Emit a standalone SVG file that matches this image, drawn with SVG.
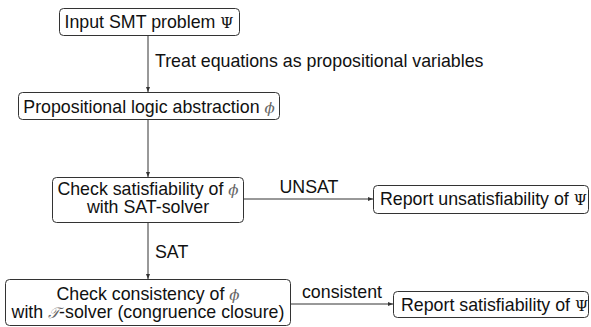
<svg xmlns="http://www.w3.org/2000/svg" width="591" height="327" viewBox="0 0 591 327">
<defs>
<marker id="ah" markerWidth="5" markerHeight="4" refX="5" refY="2" orient="auto" markerUnits="userSpaceOnUse">
<path d="M0,0 L5,2 L0,4 Z" fill="#333"/>
</marker>
<style>
.box{fill:#fff;stroke:#333;stroke-width:1}
.t{font-family:"Liberation Sans",Arial,sans-serif;font-size:17.8px;fill:#111}
.m{font-family:"DejaVu Serif","Liberation Serif",serif;font-size:15px}
.mi{font-family:"DejaVu Serif","Liberation Serif",serif;font-style:italic;font-size:15px;fill:#666}
.c{fill:none;stroke:#333;stroke-width:1}
</style>
</defs>
<rect width="591" height="327" fill="#fff"/>
<g id="connectors">
<line class="c" x1="148" y1="36" x2="148" y2="92" marker-end="url(#ah)"/>
<line class="c" x1="148" y1="120" x2="148" y2="177" marker-end="url(#ah)"/>
<line class="c" x1="148" y1="223" x2="148" y2="279" marker-end="url(#ah)"/>
<line class="c" x1="244" y1="199" x2="373" y2="199" marker-end="url(#ah)"/>
<line class="c" x1="291" y1="304" x2="393" y2="304" marker-end="url(#ah)"/>
<text class="t" x="155" y="67">Treat equations as propositional variables</text>
<text class="t" x="309" y="193" text-anchor="middle">UNSAT</text>
<text class="t" x="155" y="258">SAT</text>
<text class="t" x="342" y="298" text-anchor="middle">consistent</text>
</g>
<g id="n1">
<rect class="box" x="59.5" y="8.5" width="180" height="27" rx="4"/>
<text class="t" x="149" y="28" text-anchor="middle">Input SMT problem <tspan class="m">Ψ</tspan></text>
</g>
<g id="n2">
<rect class="box" x="18.5" y="92.5" width="261" height="27" rx="4"/>
<text class="t" x="149" y="113" text-anchor="middle">Propositional logic abstraction <tspan class="mi">ϕ</tspan></text>
</g>
<g id="n3">
<rect class="box" x="52.5" y="177.5" width="191" height="45" rx="4"/>
<text class="t" x="148" y="195" text-anchor="middle">Check satisfiability of <tspan class="mi">ϕ</tspan></text>
<text class="t" x="148" y="213" text-anchor="middle">with SAT-solver</text>
</g>
<g id="n4">
<rect class="box" x="5.5" y="279.5" width="285" height="46" rx="4"/>
<text class="t" x="148" y="299.5" text-anchor="middle">Check consistency of <tspan class="mi">ϕ</tspan></text>
<text class="t" x="148" y="318" text-anchor="middle">with <tspan class="mi" fill="#111">𝒯</tspan>-solver (congruence closure)</text>
</g>
<g id="n5">
<rect class="box" x="373.5" y="185.5" width="215" height="28" rx="4"/>
<text class="t" x="380" y="205">Report unsatisfiability of <tspan class="m">Ψ</tspan></text>
</g>
<g id="n6">
<rect class="box" x="393.5" y="291.5" width="195" height="26" rx="4"/>
<text class="t" x="401" y="311">Report satisfiability of <tspan class="m">Ψ</tspan></text>
</g>
</svg>
